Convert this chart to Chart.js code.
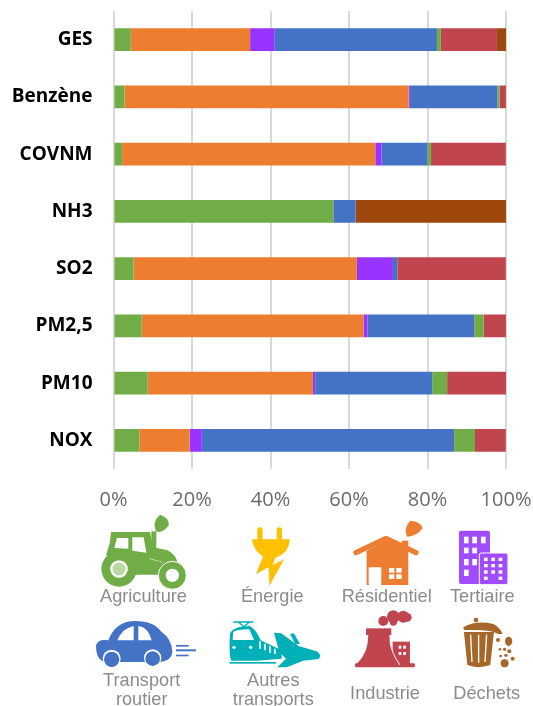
<!DOCTYPE html>
<html lang="fr">
<head>
<meta charset="utf-8">
<title>Émissions par secteur</title>
<script src="https://cdn.jsdelivr.net/npm/chart.js@4"></script>
<style>
    html, body { margin: 0; padding: 0; background: #fff; overflow: hidden; }
    #page { position: relative; width: 533px; height: 706px; overflow: hidden; }
    #wrap { position: absolute; left: 0; top: 0; width: 533px; height: 512px; }
    #icons { position: absolute; left: 80px; top: 510px; filter: blur(0.4px); }
    #icons text { font-family: "Liberation Sans", sans-serif; font-size: 18.2px; fill: #8c8c8c; text-anchor: middle; }
</style>
</head>
<body>
<div id="page">
    <div id="wrap"><canvas id="chart"></canvas></div>
    <svg id="icons" width="453" height="196" viewBox="80 510 453 196">
        <g transform="translate(80,510) scale(0.3333)">
            <!-- tracteur -->
            <g transform="translate(45,6)" fill="#70ad47">
                <path d="M48 60H165L174 106L215 114Q245 125 250 162L195 188L120 188L60 138L33 130L45 90Z"/>
                <rect x="169" y="58" width="15" height="54"/>
                <path d="M195 8Q225 18 221 40Q203 66 183 58Q170 30 195 8Z"/>
                <path d="M66 78H100V110L58 108Z" fill="#fff"/>
                <path d="M112 76H146L154 122L112 116Z" fill="#fff"/>
                <circle cx="72" cy="171" r="53"/>
                <circle cx="72" cy="171" r="23" fill="#b9d8a4" stroke="#fff" stroke-width="7"/>
                <circle cx="232" cy="190" r="42" stroke="#fff" stroke-width="3"/>
                <circle cx="232" cy="190" r="20" fill="#fff"/>
                <path d="M165 140L205 152" stroke="#fff" stroke-width="3" stroke-dasharray="4 4"/>
            </g>
            <!-- prise -->
            <g fill="#ffc000">
                <rect x="532" y="52" width="16" height="44" rx="7"/>
                <rect x="590" y="52" width="16" height="44" rx="7"/>
                <path d="M515 88H630Q626 130 590 142H556Q524 130 515 88Z"/>
                <path d="M553 130L528 192L566 172L568 228L612 148L578 165L592 130Z"/>
            </g>
            <!-- maison -->
            <g fill="#ed7d31">
                <rect x="965" y="92" width="20" height="30"/>
                <path d="M860 122L918 92L985 122V225H860Z"/>
                <path d="M828 128L918 85L1008 128" fill="none" stroke="#ed7d31" stroke-width="16" stroke-linecap="round" stroke-linejoin="round"/>
                <path d="M990 32Q1025 35 1028 55Q1010 80 982 80Q968 60 990 32Z"/>
                <rect x="866" y="172" width="38" height="53" rx="3" fill="#fff"/>
                <g fill="#fff">
                    <rect x="927" y="174" width="16" height="14"/><rect x="949" y="174" width="16" height="14"/>
                    <rect x="927" y="193" width="16" height="14"/><rect x="949" y="193" width="16" height="14"/>
                </g>
            </g>
            <!-- immeubles -->
            <g fill="#a04dff">
                <rect x="1137" y="62" width="93" height="160" rx="6"/>
                <rect x="1198" y="129" width="86" height="95" rx="6" stroke="#fff" stroke-width="3"/>
                <g fill="#fff">
                    <rect x="1152" y="80" width="14" height="20"/><rect x="1177" y="80" width="14" height="20"/><rect x="1203" y="80" width="14" height="20"/>
                    <rect x="1152" y="113" width="14" height="17"/><rect x="1177" y="113" width="14" height="17"/>
                    <rect x="1152" y="147" width="14" height="19"/><rect x="1177" y="147" width="14" height="19"/>
                    <rect x="1152" y="179" width="14" height="19"/>
                    <rect x="1212" y="143" width="11" height="10"/><rect x="1234" y="143" width="11" height="10"/><rect x="1256" y="143" width="11" height="10"/>
                    <rect x="1212" y="162" width="11" height="10"/><rect x="1234" y="162" width="11" height="10"/><rect x="1256" y="162" width="11" height="10"/>
                    <rect x="1212" y="181" width="11" height="10"/><rect x="1234" y="181" width="11" height="10"/><rect x="1256" y="181" width="11" height="10"/>
                    <rect x="1212" y="200" width="11" height="10"/><rect x="1256" y="200" width="11" height="10"/>
                </g>
            </g>
            <!-- voiture -->
            <g transform="translate(30,306)" fill="#4472c4">
                <path d="M18 100Q25 80 55 85Q75 30 130 27Q190 25 215 60Q245 80 247 120Q245 150 200 150H45Q18 145 18 100Z"/>
                <path d="M82 85Q95 50 131 42V85Z" fill="#fff"/>
                <path d="M145 42Q175 45 185 85H145Z" fill="#fff"/>
                <circle cx="65" cy="140" r="27" fill="#fff"/>
                <circle cx="65" cy="142" r="23"/>
                <circle cx="188" cy="138" r="26" fill="#fff"/>
                <circle cx="188" cy="140" r="22"/>
                <rect x="258" y="99" width="38" height="5"/>
                <rect x="258" y="112" width="60" height="6"/>
                <rect x="258" y="128" width="38" height="5"/>
            </g>
            <!-- train et avion -->
            <g transform="translate(30,306)" fill="#00b0b9">
                <path d="M430 30H490M445 30L462 44M478 30L462 44" stroke="#00b0b9" stroke-width="4" fill="none"/>
                <path d="M420 65Q430 42 480 42Q500 55 512 85L575 115V140L500 146H425Q416 140 420 65Z"/>
                <path d="M430 60Q440 52 478 52L492 84H428Z" fill="#fff"/>
                <circle cx="432" cy="106" r="5" fill="#fff"/>
                <circle cx="482" cy="106" r="5" fill="#fff"/>
                <path d="M510 88V110M525 95V115M540 102V122M555 110V126" stroke="#fff" stroke-width="5"/>
                <rect x="418" y="150" width="140" height="5"/>
                <path d="M552 62L574 64L626 102L680 118Q698 130 686 141L640 146L590 166H562L588 140L568 120Z"/>
                <path d="M600 66L612 64L630 96L616 96Z"/>
            </g>
            <!-- usine -->
            <g transform="translate(810,300)" fill="#c0454f">
                <circle cx="100" cy="33" r="15"/><circle cx="130" cy="20" r="19"/><circle cx="160" cy="20" r="18"/><circle cx="130" cy="36" r="11"/><circle cx="172" cy="22" r="13"/>
                <rect x="48" y="55" width="76" height="20"/>
                <path d="M55 75Q55 130 20 162H150Q118 120 118 75Z"/>
                <rect x="128" y="95" width="52" height="68"/>
                <rect x="15" y="160" width="180" height="12" rx="4"/>
                <path d="M120 95Q125 130 150 165" fill="none" stroke="#fff" stroke-width="3"/>
                <g fill="#fff">
                    <rect x="146" y="107" width="8" height="9"/><rect x="160" y="107" width="8" height="9"/>
                    <rect x="146" y="126" width="8" height="9"/><rect x="160" y="126" width="8" height="9"/>
                </g>
            </g>
            <!-- poubelle -->
            <g transform="translate(810,300)" fill="#a5682a">
                <path d="M340 52Q375 30 430 42Q450 52 458 72L445 72Q425 58 342 60Z"/>
                <circle cx="378" cy="30" r="7"/>
                <path d="M342 66H432L421 165Q385 178 352 165Z"/>
                <path d="M362 74L366 156M386 74V158M410 74L405 156" stroke="#fff" stroke-width="4"/>
                <ellipse cx="476" cy="94" rx="11" ry="14"/>
                <circle cx="444" cy="90" r="6"/><circle cx="450" cy="118" r="4"/><circle cx="464" cy="118" r="5"/><circle cx="478" cy="124" r="6"/>
                <circle cx="452" cy="138" r="4"/><circle cx="468" cy="136" r="5"/><circle cx="488" cy="146" r="6"/><circle cx="464" cy="160" r="12"/>
            </g>
        </g>
        <g id="legendText"></g>
    </svg>
</div>
<script>
const categories = ['GES', 'Benzène', 'COVNM', 'NH3', 'SO2', 'PM2,5', 'PM10', 'NOX'];
const tickLabels = ['0%', '20%', '40%', '60%', '80%', '100%'];

const agriculture = [4.4, 2.8, 2.2, 56, 5.1, 7.2, 8.7, 6.6];
const energie = [0, 0, 0, 0, 0, 0, 0, 0];
const residentiel = [30.4, 72.4, 64.5, 0, 56.9, 56.5, 42.1, 12.8];
const tertiaire = [6.3, 0.3, 1.6, 0, 9.2, 1, 0.6, 3.1];
const transportRoutier = [41.3, 22.3, 11.7, 5.7, 1.1, 27.2, 29.8, 64.3];
const autresTransports = [1, 0.6, 0.9, 0, 0, 2.4, 3.8, 5.3];
const industrie = [14.3, 1.4, 19, 0, 27.6, 5.5, 15, 7.8];
const dechets = [2.3, 0.2, 0.1, 38.3, 0.1, 0.2, 0, 0.1];

// libellés de la légende dessinée sous le graphique : [texte, x, y]
const legendLabels = [
    ['Agriculture', 143.5, 602],
    ['Énergie', 272.3, 602],
    ['Résidentiel', 386.7, 602],
    ['Tertiaire', 482.3, 602],
    ['Transport', 141.7, 686],
    ['routier', 141.7, 705],
    ['Autres', 273.3, 686],
    ['transports', 273.3, 705],
    ['Industrie', 385, 699],
    ['Déchets', 486.7, 699]
];

function bar(label, data, color) {
    return {
        label: label,
        data: data,
        backgroundColor: color,
        borderWidth: 0,
        categoryPercentage: 0.8,
        barPercentage: 0.5
    };
}

const legendGroup = document.getElementById('legendText');
legendLabels.forEach(function (entry) {
    const t = document.createElementNS('http://www.w3.org/2000/svg', 'text');
    t.textContent = entry[0];
    t.setAttribute('x', entry[1]);
    t.setAttribute('y', entry[2]);
    legendGroup.appendChild(t);
});

new Chart(document.getElementById('chart'), {
    type: 'bar',
    data: {
        labels: categories,
        datasets: [
            bar('Agriculture', agriculture, '#70ad47'),
            bar('Énergie', energie, '#ffc000'),
            bar('Résidentiel', residentiel, '#ed7d31'),
            bar('Tertiaire', tertiaire, '#9933ff'),
            bar('Transport routier', transportRoutier, '#4472c4'),
            bar('Autres transports', autresTransports, '#70ad47'),
            bar('Industrie', industrie, '#c0454f'),
            bar('Déchets', dechets, '#9e480e')
        ]
    },
    options: {
        indexAxis: 'y',
        responsive: true,
        maintainAspectRatio: false,
        animation: false,
        layout: {
            padding: { top: 11, right: 27, left: 0, bottom: 0 }
        },
        plugins: {
            legend: { display: false },
            tooltip: { enabled: false }
        },
        scales: {
            x: {
                stacked: true,
                min: 0,
                max: 100,
                grid: { color: '#d9d9d9', lineWidth: 2, drawTicks: false },
                border: { display: false },
                ticks: {
                    stepSize: 20,
                    maxRotation: 0,
                    padding: 19,
                    color: '#6b6b6b',
                    font: { family: '"Open Sans"', size: 20 },
                    callback: function (value, index) { return tickLabels[index]; }
                },
                afterFit: function (scale) {
                    scale.height = 43;
                    scale.paddingLeft = 0;
                    scale.paddingRight = 0;
                }
            },
            y: {
                stacked: true,
                grid: { display: false },
                border: { display: false },
                ticks: {
                    padding: 13,
                    color: '#000000',
                    font: { family: '"Open Sans"', size: 19, weight: 'bold' }
                },
                afterFit: function (scale) {
                    scale.width = 113.5;
                    scale.paddingTop = 0;
                    scale.paddingBottom = 0;
                }
            }
        }
    }
});
</script>
</body>
</html>
